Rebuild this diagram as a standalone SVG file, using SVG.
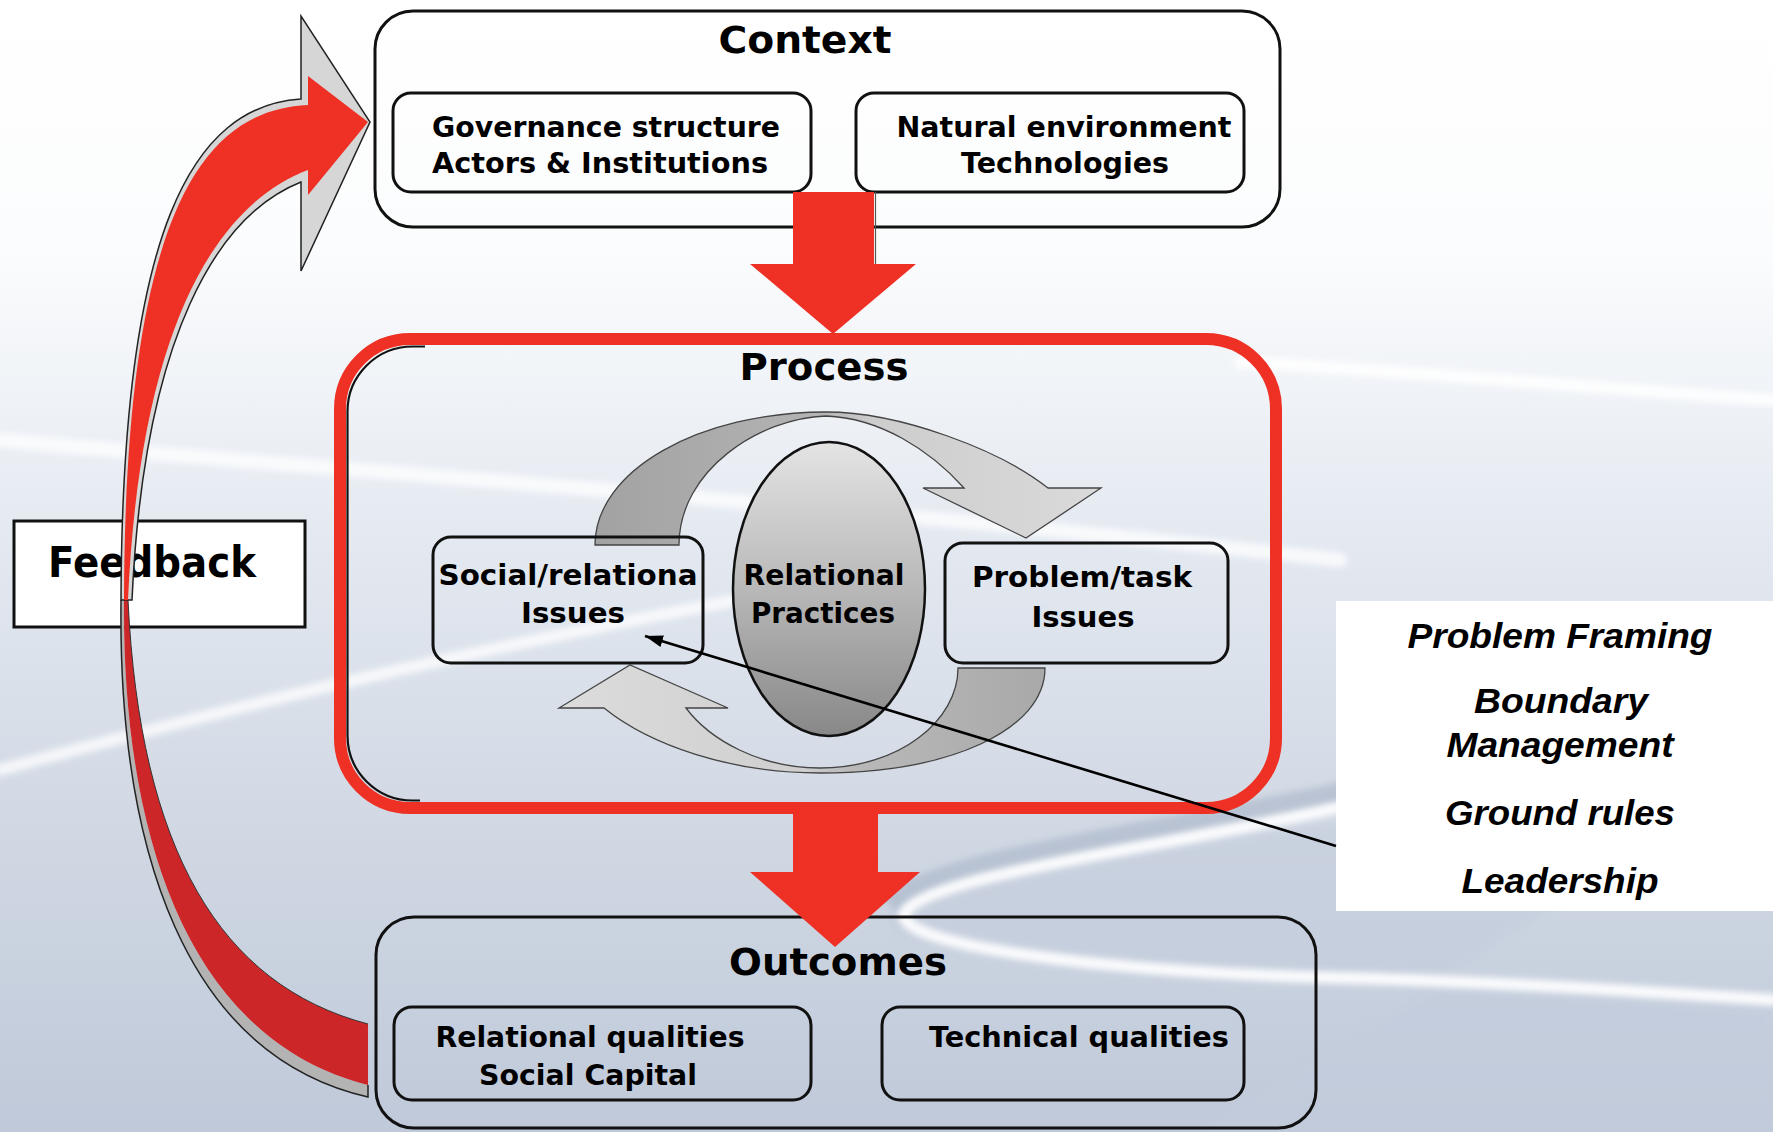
<svg xmlns="http://www.w3.org/2000/svg" width="1773" height="1132" viewBox="0 0 1773 1132">
<defs>
  <linearGradient id="bg" x1="0" y1="0" x2="0" y2="1">
    <stop offset="0" stop-color="#ffffff"/>
    <stop offset="0.22" stop-color="#fbfcfd"/>
    <stop offset="0.45" stop-color="#e6ebf2"/>
    <stop offset="0.7" stop-color="#d3dae5"/>
    <stop offset="1" stop-color="#bfc9d9"/>
  </linearGradient>
  <linearGradient id="upArc" gradientUnits="userSpaceOnUse" x1="595" y1="0" x2="1100" y2="0">
    <stop offset="0" stop-color="#a2a2a2"/>
    <stop offset="0.45" stop-color="#b4b4b4"/>
    <stop offset="0.55" stop-color="#cdcdcd"/>
    <stop offset="1" stop-color="#dadada"/>
  </linearGradient>
  <linearGradient id="lowArc" gradientUnits="userSpaceOnUse" x1="559" y1="0" x2="1045" y2="0">
    <stop offset="0" stop-color="#dcdcdc"/>
    <stop offset="0.5" stop-color="#cfcfcf"/>
    <stop offset="0.6" stop-color="#b9b9b9"/>
    <stop offset="1" stop-color="#a9a9a9"/>
  </linearGradient>
  <linearGradient id="ell" x1="0" y1="0" x2="0" y2="1">
    <stop offset="0" stop-color="#e4e4e4"/>
    <stop offset="0.5" stop-color="#b8b8b8"/>
    <stop offset="1" stop-color="#888888"/>
  </linearGradient>
  <filter id="soft" x="-5%" y="-20%" width="110%" height="140%">
    <feGaussianBlur stdDeviation="3"/>
  </filter>
  <marker id="ah" markerUnits="userSpaceOnUse" markerWidth="20" markerHeight="14" refX="18" refY="6" orient="auto">
    <path d="M0,0 L18,6 L0,12 z" fill="#000"/>
  </marker>
  <style>
    .box { fill: none; stroke: #111; stroke-width: 3; }
    .title { font-family: "DejaVu Sans", Verdana, sans-serif; font-weight: bold; font-size: 38px; fill: #000; text-anchor: middle; }
    .lbl { font-family: "DejaVu Sans", Verdana, sans-serif; font-weight: bold; font-size: 28px; fill: #000; text-anchor: middle; }
    .side { font-family: "Liberation Sans", Arial, sans-serif; font-weight: bold; font-style: italic; font-size: 35px; fill: #000; text-anchor: middle; }
    .red { fill: #ee3124; }
    .swoosh { fill: none; stroke: #ffffff; stroke-linecap: round; filter: url(#soft); }
  </style>
</defs>

<!-- background -->
<g id="background">
  <rect x="0" y="0" width="1773" height="1132" fill="url(#bg)"/>
  <path class="swoosh" d="M0,440 C350,472 800,500 1340,560" stroke-width="14" opacity="0.75"/>
  <path class="swoosh" d="M1240,362 C1420,372 1600,388 1773,400" stroke-width="12" opacity="0.9"/>
  <path class="swoosh" d="M0,770 C250,702 500,642 820,585" stroke-width="12" opacity="0.75"/>
  <path d="M1773,770 C1500,800 1100,850 960,880 C880,900 860,930 930,945 C1100,975 1400,975 1773,1010 L1773,1132 L1200,1132 Z" fill="#c4cddd" opacity="0.5" filter="url(#soft)"/>
  <path d="M1345,792 C1150,835 930,862 890,905" fill="none" stroke="#a9b5c8" stroke-width="22" opacity="0.6" filter="url(#soft)"/>
  <path class="swoosh" d="M1345,806 C1150,850 930,875 905,912 C890,945 1100,972 1345,978 C1500,982 1650,992 1773,1000" stroke-width="12" opacity="0.9"/>
</g>

<!-- Context -->
<g id="context">
  <rect x="375" y="11" width="905" height="216" rx="38" fill="#ffffff" fill-opacity="0.6" class="box"/>
  <text class="title" x="805" y="53" textLength="173" lengthAdjust="spacingAndGlyphs">Context</text>
</g>
<g id="governance">
  <rect x="393" y="93" width="418" height="99" rx="18" class="box"/>
  <text class="lbl" x="606" y="137" textLength="348" lengthAdjust="spacingAndGlyphs">Governance structure</text>
  <text class="lbl" x="600" y="173" textLength="336" lengthAdjust="spacingAndGlyphs">Actors &amp; Institutions</text>
</g>
<g id="natural">
  <rect x="856" y="93" width="388" height="99" rx="18" class="box"/>
  <text class="lbl" x="1064" y="137" textLength="335" lengthAdjust="spacingAndGlyphs">Natural environment</text>
  <text class="lbl" x="1065" y="173" textLength="208" lengthAdjust="spacingAndGlyphs">Technologies</text>
</g>

<!-- Process -->
<g id="process">
  <path d="M420,800.5 L412.5,800.5 A65,65 0 0 1 347.5,735.5 L347.5,412 A65,65 0 0 1 412.5,346.5 L425,346.5" fill="none" stroke="#111" stroke-width="2.2"/>
  <rect x="340" y="339" width="936" height="469" rx="70" fill="none" stroke="#ee3124" stroke-width="12"/>
  <text class="title" x="824" y="380" textLength="169" lengthAdjust="spacingAndGlyphs">Process</text>
</g>
<g id="cycle-arrows">
  <path d="M595,545 C595,470 700,412 826,412 C900,412 1000,450 1048,488 L1101,488 L1026,538 L923,488 L964,488 C930,450 880,418 826,416 C760,418 679,470 679,545 Z" fill="url(#upArc)" stroke="#444" stroke-width="1.3"/>
  <path d="M1045,668 C1045,730 950,773 820,773 C730,773 650,745 604,708 L559,708 L630,665 L728,708 L686,708 C710,740 760,768 820,768 C900,768 958,720 958,668 Z" fill="url(#lowArc)" stroke="#444" stroke-width="1.3"/>
</g>
<g id="relational-practices">
  <ellipse cx="829" cy="589" rx="96" ry="147" fill="url(#ell)" stroke="#111" stroke-width="2.5"/>
  <text class="lbl" x="824" y="585" textLength="161" lengthAdjust="spacingAndGlyphs">Relational</text>
  <text class="lbl" x="823" y="623" textLength="144" lengthAdjust="spacingAndGlyphs">Practices</text>
</g>
<g id="social">
  <rect x="433" y="537" width="270" height="126" rx="18" fill="#e6ebf2" fill-opacity="0.85" class="box"/>
  <text class="lbl" x="568" y="585" textLength="259" lengthAdjust="spacingAndGlyphs">Social/relationa</text>
  <text class="lbl" x="573" y="623" textLength="104" lengthAdjust="spacingAndGlyphs">Issues</text>
</g>
<g id="problem">
  <rect x="945" y="543" width="283" height="120" rx="18" fill="#e6ebf2" fill-opacity="0.85" class="box"/>
  <text class="lbl" x="1082" y="587" textLength="220" lengthAdjust="spacingAndGlyphs">Problem/task</text>
  <text class="lbl" x="1083" y="627" textLength="103" lengthAdjust="spacingAndGlyphs">Issues</text>
</g>

<!-- Outcomes -->
<g id="outcomes">
  <rect x="376" y="917" width="940" height="211" rx="38" class="box"/>
  <text class="title" x="838" y="975" textLength="218" lengthAdjust="spacingAndGlyphs">Outcomes</text>
</g>
<g id="relational-qualities">
  <rect x="394" y="1007" width="417" height="93" rx="18" class="box"/>
  <text class="lbl" x="590" y="1047" textLength="309" lengthAdjust="spacingAndGlyphs">Relational qualities</text>
  <text class="lbl" x="588" y="1085" textLength="218" lengthAdjust="spacingAndGlyphs">Social Capital</text>
</g>
<g id="technical-qualities">
  <rect x="882" y="1007" width="362" height="93" rx="18" class="box"/>
  <text class="lbl" x="1079" y="1047" textLength="300" lengthAdjust="spacingAndGlyphs">Technical qualities</text>
</g>

<!-- Feedback -->
<g id="feedback">
  <rect x="14" y="521" width="291" height="106" fill="#ffffff" stroke="#111" stroke-width="3"/>
  <text x="152" y="577" font-family="'DejaVu Sans', Verdana, sans-serif" font-weight="bold" font-size="42" text-anchor="middle" textLength="208" lengthAdjust="spacingAndGlyphs">Feedback</text>
</g>

<!-- Side list -->
<g id="practices-list">
  <rect x="1336" y="601" width="437" height="310" fill="#ffffff"/>
  <text class="side" x="1560" y="648" textLength="305" lengthAdjust="spacingAndGlyphs">Problem Framing</text>
  <text class="side" x="1561" y="713" textLength="174" lengthAdjust="spacingAndGlyphs">Boundary</text>
  <text class="side" x="1560" y="757" textLength="227" lengthAdjust="spacingAndGlyphs">Management</text>
  <text class="side" x="1560" y="825" textLength="230" lengthAdjust="spacingAndGlyphs">Ground rules</text>
  <text class="side" x="1560" y="893" textLength="197" lengthAdjust="spacingAndGlyphs">Leadership</text>
</g>

<!-- connectors -->
<g id="connectors">
  <!-- context to process -->
  <rect x="793" y="192" width="81" height="73" class="red"/>
  <line x1="875.5" y1="192" x2="875.5" y2="264" stroke="#555" stroke-width="1.2"/>
  <polygon points="750,264 916,264 833,334" class="red"/>
  <!-- process to outcomes -->
  <rect x="793" y="808" width="85" height="65" class="red"/>
  <polygon points="750,872 920,872 835,947" class="red"/>
  <!-- pointer line -->
  <line x1="1336" y1="846" x2="645" y2="636" stroke="#000" stroke-width="2.6" marker-end="url(#ah)"/>
  <!-- feedback ribbon: lower part -->
  <path d="M121,600 C118,850 185,1055 368,1097 L368,1085 C190,1040 122,840 124,600 Z" fill="#b3b3b3"/>
  <path d="M121,600 C118,850 185,1055 368,1097 L368,1085" fill="none" stroke="#222" stroke-width="1.5"/>
  <path d="M124,600 C122,840 190,1040 368,1085 L368,1024 C220,985 140,850 128,600 Z" fill="#cc2628"/>
  <path d="M368,1024 C220,985 140,850 128,600" fill="none" stroke="#333" stroke-width="1"/>
  <!-- feedback ribbon: upper part with head -->
  <path d="M121,600 C122,230 192,106 301,99 L301,16 L370,122 L301,271 L301,182 C218,215 144,335 132,600 Z" fill="#d6d6d6" stroke="#222" stroke-width="1.5"/>
  <path d="M124,600 C125,230 195,110 308,105 L308,76 L368,122 L308,195 L308,170 C215,205 140,330 128,600 Z" fill="#ee3124"/>
</g>
</svg>
